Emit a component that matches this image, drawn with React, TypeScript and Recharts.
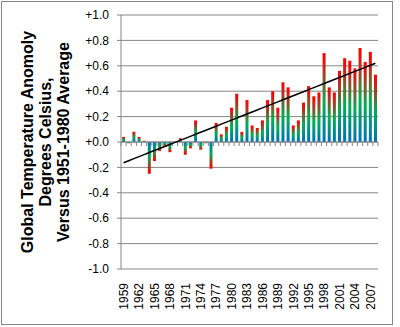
import { Bar, Cell, ComposedChart, CartesianGrid, Line, ReferenceLine, XAxis, YAxis } from "recharts"

const years = [
  1959, 1960, 1961, 1962, 1963, 1964, 1965, 1966, 1967, 1968,
  1969, 1970, 1971, 1972, 1973, 1974, 1975, 1976, 1977, 1978,
  1979, 1980, 1981, 1982, 1983, 1984, 1985, 1986, 1987, 1988,
  1989, 1990, 1991, 1992, 1993, 1994, 1995, 1996, 1997, 1998,
  1999, 2000, 2001, 2002, 2003, 2004, 2005, 2006, 2007, 2008,
]

const anomaly = [
  0.04, -0.01, 0.08, 0.04, 0.01, -0.25, -0.15, -0.07, -0.03, -0.08,
  0.0, 0.03, -0.1, -0.05, 0.17, -0.06, -0.01, -0.21, 0.15, 0.06,
  0.12, 0.27, 0.38, 0.08, 0.33, 0.13, 0.11, 0.17, 0.33, 0.4,
  0.27, 0.47, 0.43, 0.13, 0.17, 0.31, 0.44, 0.36, 0.39, 0.7,
  0.43, 0.39, 0.56, 0.66, 0.64, 0.58, 0.74, 0.63, 0.71, 0.53,
]

const yTicks = [-1, -0.8, -0.6, -0.4, -0.2, 0, 0.2, 0.4, 0.6, 0.8, 1]

const titleLines = ["Global Temperature Anomoly", "Degrees Celsius,", "Versus 1951-1980 Average"]

// linear trend (least squares), like Excel's trendline
const n = anomaly.length
const meanX = (n - 1) / 2
const meanY = anomaly.reduce((s, v) => s + v, 0) / n
let sxy = 0
let sxx = 0
anomaly.forEach((v, i) => {
  sxy += (i - meanX) * (v - meanY)
  sxx += (i - meanX) * (i - meanX)
})
const slope = sxy / sxx
const intercept = meanY - slope * meanX

const data = years.map((year, i) => ({
  year: String(year),
  anomaly: anomaly[i],
  trend: intercept + slope * i,
}))

const gray = "#868686"

const fmt = (v: number) => (v > 0 ? `+${v.toFixed(1)}` : v === 0 ? "+0.0" : v.toFixed(1))

const YearTick = (props: any) => {
  const { x, y, payload } = props
  return (
    <text
      x={x}
      y={y}
      dy="0.36em"
      transform={`rotate(-90, ${x}, ${y})`}
      textAnchor="end"
      fontSize={12}
      fill="#000"
    >
      {payload.value}
    </text>
  )
}

const AxisTitle = (props: any) => {
  const vb = props.viewBox || {}
  const x0 = vb.x ?? 0
  const cy = (vb.y ?? 15) + (vb.height ?? 254) / 2
  return (
    <g>
      {titleLines.map((line, i) => {
        const x = x0 + 33 + i * 18
        return (
          <text
            key={line}
            x={x}
            y={cy}
            transform={`rotate(-90, ${x}, ${cy})`}
            textAnchor="middle"
            fontSize={16}
            fontWeight="bold"
            fill="#000"
          >
            {line}
          </text>
        )
      })}
    </g>
  )
}

// zero axis line with small tick marks between the categories
const ZeroAxis = (props: any) => {
  const { x1, y1, x2 } = props
  const step = (x2 - x1) / n
  return (
    <g>
      <line x1={x1} y1={y1} x2={x2} y2={y1} stroke={gray} strokeWidth={1} />
      {Array.from({ length: n + 1 }, (_, k) => (
        <line key={k} x1={x1 + k * step} y1={y1} x2={x1 + k * step} y2={y1 + 4} stroke={gray} strokeWidth={1} />
      ))}
    </g>
  )
}

export default function App() {
  return (
    <div style={{ position: "absolute", left: 0, top: 0, width: 400, height: 327, fontFamily: "'Liberation Sans', Arial, sans-serif" }}>
      <div style={{ position: "absolute", left: 1, top: 1, width: 390, height: 322, border: `1px solid ${gray}` }} />
      <ComposedChart
        width={400}
        height={327}
        data={data}
        margin={{ top: 15, right: 22, bottom: 0, left: 0 }}
        barCategoryGap="22%"
        style={{ position: "absolute", left: 0, top: 0 }}
      >
        <defs>
          <linearGradient id="posGrad" x1="0" y1="0" x2="0" y2="1">
            <stop offset="0" stopColor="#ff0000" />
            <stop offset="0.08" stopColor="#f20a0a" />
            <stop offset="0.55" stopColor="#00b050" />
            <stop offset="1" stopColor="#0070c0" />
          </linearGradient>
          <linearGradient id="negGrad" x1="0" y1="0" x2="0" y2="1">
            <stop offset="0" stopColor="#0070c0" />
            <stop offset="0.45" stopColor="#00b050" />
            <stop offset="0.92" stopColor="#f20a0a" />
            <stop offset="1" stopColor="#ff0000" />
          </linearGradient>
        </defs>
        <CartesianGrid vertical={false} stroke={gray} />
        <XAxis
          dataKey="year"
          interval={2}
          height={58}
          axisLine={false}
          tickLine={false}
          tickSize={0}
          tickMargin={14}
          tick={<YearTick />}
        />
        <YAxis
          domain={[-1, 1]}
          ticks={yTicks}
          width={121}
          tickFormatter={fmt}
          axisLine={{ stroke: gray }}
          tickLine={{ stroke: gray }}
          tickSize={4}
          tickMargin={8}
          tick={{ fontSize: 12, fill: "#000" }}
          label={{ content: <AxisTitle /> }}
        />
        <Bar dataKey="anomaly" isAnimationActive={false}>
          {data.map((d) => (
            <Cell key={d.year} fill={d.anomaly < 0 ? "url(#negGrad)" : "url(#posGrad)"} />
          ))}
        </Bar>
        <ReferenceLine y={0} shape={<ZeroAxis />} />
        <Line dataKey="trend" stroke="#000" strokeWidth={1.5} dot={false} activeDot={false} isAnimationActive={false} />
      </ComposedChart>
    </div>
  )
}
